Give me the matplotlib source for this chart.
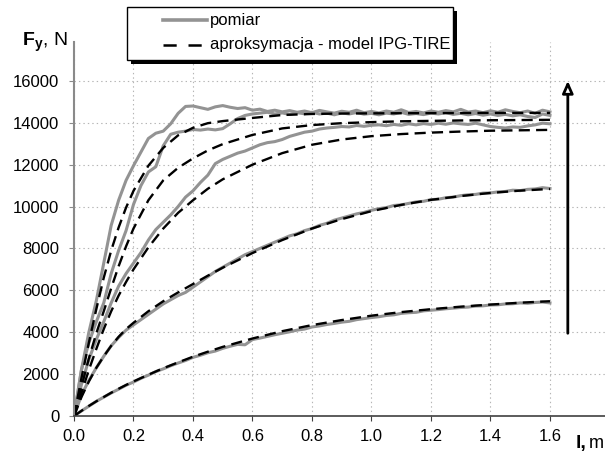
import matplotlib
matplotlib.use('Agg')
import matplotlib.pyplot as plt
from matplotlib.lines import Line2D
from matplotlib.patches import Rectangle

plt.rcParams['font.family'] = ['Liberation Sans', 'DejaVu Sans']
plt.rcParams['mathtext.fontset'] = 'custom'
plt.rcParams['mathtext.rm'] = 'Liberation Sans'
plt.rcParams['mathtext.bf'] = 'Liberation Sans:bold'
plt.rcParams['mathtext.it'] = 'Liberation Sans:italic'
plt.rcParams['lines.scale_dashes'] = False

# distance l [m] of the recorded samples
l_meas = [0.000, 0.025, 0.050, 0.075, 0.100, 0.125, 0.150, 0.175, 0.200, 0.225,
          0.250, 0.275, 0.300, 0.325, 0.350, 0.375, 0.400, 0.425, 0.450, 0.475,
          0.500, 0.525, 0.550, 0.575, 0.600, 0.625, 0.650, 0.675, 0.700, 0.725,
          0.750, 0.775, 0.800, 0.825, 0.850, 0.875, 0.900, 0.925, 0.950, 0.975,
          1.000, 1.025, 1.050, 1.075, 1.100, 1.125, 1.150, 1.175, 1.200, 1.225,
          1.250, 1.275, 1.300, 1.325, 1.350, 1.375, 1.400, 1.425, 1.450, 1.475,
          1.500, 1.525, 1.550, 1.575, 1.600]

# pomiar - lateral force Fy [N]
f_meas_a = [0, 2200, 4000, 5500, 7300, 9100, 10300, 11250, 11950, 12600,
            13250, 13500, 13600, 13950, 14450, 14780, 14800, 14720, 14640, 14760,
            14820, 14740, 14680, 14720, 14600, 14650, 14540, 14600, 14520, 14580,
            14500, 14560, 14480, 14590, 14520, 14460, 14550, 14500, 14600, 14480,
            14540, 14470, 14560, 14500, 14620, 14490, 14540, 14470, 14560, 14500,
            14580, 14520, 14640, 14510, 14560, 14480, 14570, 14500, 14620, 14540,
            14480, 14560, 14450, 14600, 14520]
f_meas_b = [0, 2200, 3500, 4500, 5400, 6800, 7900, 8850, 10100, 11000,
            11650, 11900, 12900, 13450, 13550, 13600, 13680, 13650, 13700, 13660,
            13720, 13950, 14200, 14350, 14420, 14460, 14500, 14420, 14470, 14400,
            14480, 14430, 14500, 14420, 14460, 14380, 14470, 14420, 14490, 14410,
            14450, 14380, 14460, 14420, 14500, 14400, 14440, 14390, 14460, 14420,
            14480, 14400, 14450, 14380, 14440, 14360, 14420, 14350, 14400, 14330,
            14380, 14300, 14250, 14420, 14350]
f_meas_c = [0, 1500, 2700, 3650, 4500, 5400, 6200, 6800, 7300, 7800,
            8400, 8900, 9250, 9600, 10000, 10450, 10750, 11150, 11500, 12050,
            12250, 12400, 12550, 12650, 12800, 12950, 13050, 13100, 13200, 13350,
            13450, 13550, 13600, 13700, 13750, 13780, 13820, 13800, 13870, 13830,
            13880, 13900, 13860, 13920, 13880, 13950, 13900, 13960, 13920, 13980,
            13930, 13990, 13950, 13920, 13980, 13900, 13820, 13780, 13750, 13800,
            13780, 13850, 13900, 13980, 13950]
f_meas_d = [0, 1000, 1700, 2300, 2850, 3350, 3750, 4100, 4350, 4600,
            4850, 5100, 5350, 5550, 5750, 5900, 6150, 6400, 6650, 6900,
            7100, 7300, 7500, 7700, 7850, 8000, 8150, 8300, 8450, 8600,
            8700, 8850, 8950, 9100, 9200, 9350, 9450, 9550, 9650, 9720,
            9820, 9900, 9950, 10050, 10080, 10150, 10220, 10250, 10330, 10350,
            10420, 10450, 10520, 10560, 10580, 10640, 10650, 10700, 10720, 10780,
            10760, 10820, 10840, 10900, 10860]
f_meas_e = [0, 240, 470, 700, 900, 1100, 1280, 1470, 1620, 1800,
            1950, 2120, 2250, 2400, 2530, 2650, 2800, 2900, 3020, 3100,
            3230, 3330, 3420, 3400, 3650, 3720, 3800, 3880, 3950, 4020,
            4100, 4150, 4250, 4300, 4370, 4420, 4480, 4520, 4600, 4650,
            4700, 4740, 4800, 4830, 4900, 4930, 4950, 5020, 5050, 5080,
            5120, 5150, 5180, 5200, 5250, 5260, 5300, 5310, 5350, 5360,
            5400, 5380, 5420, 5440, 5400]

# aproksymacja - model IPG-TIRE
l_model = [0.0, 0.025, 0.05, 0.075, 0.1, 0.125, 0.15, 0.175, 0.2, 0.25,
           0.3, 0.35, 0.4, 0.45, 0.5, 0.6, 0.7, 0.8, 0.9, 1.0,
           1.1, 1.2, 1.3, 1.4, 1.5, 1.6]
f_model_a = [0, 1800, 3500, 5100, 6600, 7900, 9000, 9950, 10750, 11950,
             12800, 13400, 13760, 13980, 14080, 14230, 14370, 14420, 14440, 14450,
             14455, 14460, 14465, 14470, 14470, 14470]
f_model_b = [0, 1400, 2750, 3950, 5000, 6100, 7150, 8100, 8950, 10300,
             11250, 11850, 12300, 12680, 12980, 13420, 13730, 13890, 13980, 14030,
             14070, 14090, 14110, 14120, 14130, 14140]
f_model_c = [0, 1100, 2200, 3200, 4150, 5000, 5750, 6400, 7000, 8050,
             8950, 9700, 10300, 10850, 11300, 12000, 12550, 12950, 13200, 13360,
             13460, 13530, 13580, 13620, 13640, 13660]
f_model_d = [0, 900, 1650, 2300, 2850, 3350, 3780, 4150, 4450, 5000,
             5480, 5900, 6300, 6700, 7080, 7780, 8400, 8950, 9400, 9780,
             10080, 10320, 10500, 10650, 10760, 10840]
f_model_e = [0, 245, 480, 700, 905, 1110, 1300, 1480, 1650, 1970,
             2280, 2560, 2830, 3070, 3300, 3700, 4050, 4340, 4580, 4790,
             4960, 5100, 5220, 5320, 5410, 5480]

x_ticks = [0.0, 0.2, 0.4, 0.6, 0.8, 1.0, 1.2, 1.4, 1.6]
y_ticks = [0, 2000, 4000, 6000, 8000, 10000, 12000, 14000, 16000]

# arrow: direction of increasing load
arrow_l = 1.66
arrow_from = 3950
arrow_to = 16000

GRAY = '#939393'
DASH = (0, (8, 4.5))

fig = plt.figure(figsize=(6.05, 4.53), dpi=100)
ax = fig.add_axes([74 / 605, 37 / 453, 531 / 605, 374.3 / 453])
ax.set_xlim(0, 1.785)
ax.set_ylim(0, 17870)

for f in [f_meas_e, f_meas_d, f_meas_c, f_meas_b, f_meas_a]:
    ax.plot(l_meas, f, color=GRAY, lw=2.2, solid_joinstyle='round')
for f in [f_model_e, f_model_d, f_model_c, f_model_b, f_model_a]:
    ax.plot(l_model, f, color='black', lw=1.7, linestyle=DASH)

ax.set_xticks(x_ticks)
ax.set_xticklabels([f'{v:.1f}' for v in x_ticks])
ax.set_yticks(y_ticks)
ax.set_yticklabels([str(v) for v in y_ticks])
ax.tick_params(axis='both', labelsize=12, direction='out', length=3.5)
ax.tick_params(axis='x', pad=6, color='#404040')
ax.tick_params(axis='y', pad=7, color='#8a8a8a')

ax.grid(True, linestyle=(0, (1, 2.2)), color='#b5b5b5', lw=0.8)
ax.set_axisbelow(True)
for side in ['top', 'right']:
    ax.spines[side].set_visible(False)
ax.spines['left'].set_color('#8a8a8a')
ax.spines['left'].set_linewidth(1.5)
ax.spines['bottom'].set_color('#404040')
ax.spines['bottom'].set_linewidth(1.2)

ax.annotate('', xy=(arrow_l, arrow_to), xytext=(arrow_l, arrow_from),
            arrowprops=dict(arrowstyle='-|>,head_length=0.45,head_width=0.2',
                            lw=2.0, fc='white', ec='black', mutation_scale=16,
                            shrinkA=0, shrinkB=0))

W, H = 605, 453

# axis titles
fig.text(22 / W, 1 - 46 / H, r'$\mathbf{F_y}$, N', fontsize=14, va='baseline')
fig.text(576 / W, 1 - 448 / H, 'l,', fontsize=14, fontweight='bold', va='baseline')
fig.text(589 / W, 1 - 448 / H, 'm', fontsize=13, va='baseline')

# legend box with drop shadow
shadow = Rectangle(((127 + 4) / W, 1 - (60 + 4) / H), 326 / W, 53 / H,
                   transform=fig.transFigure, facecolor='black', edgecolor='none')
box = Rectangle((127 / W, 1 - 60 / H), 326 / W, 53 / H,
                transform=fig.transFigure, facecolor='white', edgecolor='black', lw=1.0)
fig.add_artist(shadow)
fig.add_artist(box)
fig.add_artist(Line2D([163 / W, 207 / W], [1 - 20 / H, 1 - 20 / H],
                      transform=fig.transFigure, color=GRAY, lw=2.6))
fig.add_artist(Line2D([163 / W, 207 / W], [1 - 45 / H, 1 - 45 / H],
                      transform=fig.transFigure, color='black', lw=1.8,
                      linestyle=(0, (9.5, 8.5))))
fig.text(210 / W, 1 - 20 / H, 'pomiar', fontsize=12, va='center')
fig.text(210 / W, 1 - 45 / H, 'aproksymacja - model IPG-TIRE', fontsize=12, va='center')

fig.savefig('out.png', dpi=100)
